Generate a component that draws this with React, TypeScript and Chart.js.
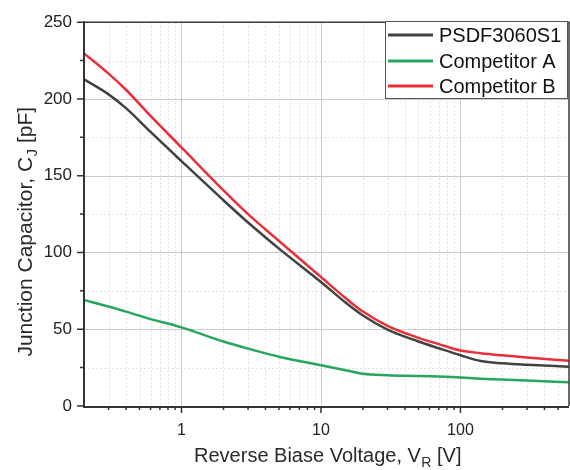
import { useEffect, useRef } from 'react';
import { Chart, registerables } from 'chart.js';

Chart.register(...registerables);

// ---- data ----
const voltages = [0.2, 0.3, 0.4, 0.6, 1, 2, 3, 5, 10, 15, 20, 30, 50, 70, 100, 140, 200, 300, 600];
const psdf3060 = [212.8, 203, 194, 178.5, 159.5, 134, 119.5, 102.5, 80.8, 67.4, 58.9, 49.7, 42, 37.6, 33.1, 29.3, 27.8, 26.8, 25.6];
const competitorA = [69, 64.8, 61.5, 56.6, 51.2, 42, 37.4, 32.1, 26.5, 23.3, 21, 20.1, 19.6, 19.2, 18.6, 17.7, 17.2, 16.6, 15.4];
const competitorB = [229.7, 216.5, 206, 189, 168.4, 140.5, 125, 107.5, 84, 70.3, 61.5, 52.2, 44.4, 40.3, 36.1, 34.4, 33, 31.6, 29.5];

const seriesNames = ['PSDF3060S1', 'Competitor A', 'Competitor B'];
const seriesColors = ['#424242', '#27a55e', '#e8303a'];

const xMajorTicks = [1, 10, 100];
const xMinorTicks = [0.3, 0.4, 0.5, 0.6, 0.7, 0.8, 0.9, 2, 3, 4, 5, 6, 7, 8, 9, 20, 30, 40, 50, 60, 70, 80, 90, 200, 300, 400, 500];
const yMajorTicks = [0, 50, 100, 150, 200, 250];
const yMinorTicks = [25, 75, 125, 175, 225];

const xTitle = ['Reverse Biase Voltage, V', 'R', ' [V]'];
const yTitle = ['Junction Capacitor, C', 'J', ' [pF]'];

const FONT = '"Liberation Sans", Arial, sans-serif';

function drawSubTitle(ctx: CanvasRenderingContext2D, parts: string[], cx: number, cy: number, rot: number, size: number) {
  const big = `${size}px ${FONT}`;
  const small = `${Math.round(size * 0.7)}px ${FONT}`;
  ctx.save();
  ctx.translate(cx, cy);
  ctx.rotate(rot);
  ctx.font = big;
  const w1 = ctx.measureText(parts[0]).width;
  const w3 = ctx.measureText(parts[2]).width;
  ctx.font = small;
  const w2 = ctx.measureText(parts[1]).width;
  let x = -(w1 + w2 + w3) / 2;
  ctx.fillStyle = '#2a2a2a';
  ctx.textBaseline = 'alphabetic';
  ctx.textAlign = 'left';
  ctx.font = big;
  ctx.fillText(parts[0], x, 7.5);
  x += w1 + 0.5;
  ctx.font = small;
  ctx.fillText(parts[1], x, 13);
  x += w2;
  ctx.font = big;
  ctx.fillText(parts[2], x, 7.5);
  ctx.restore();
}

const framePlugin = {
  id: 'framePlugin',
  beforeDatasetsDraw(chart: any) {
    const { ctx, chartArea: a, scales } = chart;
    const xs = scales.x;
    const ys = scales.y;
    ctx.save();
    // minor grid (dotted)
    ctx.lineWidth = 1;
    ctx.strokeStyle = '#e2e2e2';
    ctx.setLineDash([2, 2]);
    ctx.beginPath();
    xMinorTicks.forEach((v) => {
      const px = Math.round(xs.getPixelForValue(v)) + 0.5;
      ctx.moveTo(px, a.top);
      ctx.lineTo(px, a.bottom);
    });
    yMinorTicks.forEach((v) => {
      const py = Math.round(ys.getPixelForValue(v)) + 0.5;
      ctx.moveTo(a.left, py);
      ctx.lineTo(a.right, py);
    });
    ctx.stroke();
    // major grid (solid)
    ctx.setLineDash([]);
    ctx.strokeStyle = '#cbcbcb';
    ctx.beginPath();
    xMajorTicks.forEach((v) => {
      const px = Math.round(xs.getPixelForValue(v)) + 0.5;
      ctx.moveTo(px, a.top);
      ctx.lineTo(px, a.bottom);
    });
    yMajorTicks.forEach((v) => {
      if (v === 0 || v === 250) return;
      const py = Math.round(ys.getPixelForValue(v)) + 0.5;
      ctx.moveTo(a.left, py);
      ctx.lineTo(a.right, py);
    });
    ctx.stroke();
    ctx.restore();
  },
  afterDatasetsDraw(chart: any) {
    const { ctx, chartArea: a, scales } = chart;
    const xs = scales.x;
    const ys = scales.y;
    ctx.save();
    // top & right frame
    ctx.strokeStyle = '#3a3a3a';
    ctx.lineWidth = 1.5;
    ctx.beginPath();
    ctx.moveTo(a.left, a.top);
    ctx.lineTo(a.right, a.top);
    ctx.lineTo(a.right, a.bottom);
    ctx.stroke();
    // axis lines
    ctx.lineWidth = 2;
    ctx.strokeStyle = '#333';
    ctx.beginPath();
    ctx.moveTo(a.left, a.top - 1);
    ctx.lineTo(a.left, a.bottom + 1);
    ctx.lineTo(a.right, a.bottom + 1);
    ctx.stroke();
    // tick marks
    ctx.lineWidth = 1.5;
    ctx.beginPath();
    xMajorTicks.forEach((v) => {
      const px = xs.getPixelForValue(v);
      ctx.moveTo(px, a.bottom);
      ctx.lineTo(px, a.bottom + 7);
    });
    xMinorTicks.forEach((v) => {
      const px = xs.getPixelForValue(v);
      ctx.moveTo(px, a.bottom);
      ctx.lineTo(px, a.bottom + 4);
    });
    yMajorTicks.forEach((v) => {
      const py = ys.getPixelForValue(v);
      ctx.moveTo(a.left, py);
      ctx.lineTo(a.left - 7, py);
    });
    yMinorTicks.forEach((v) => {
      const py = ys.getPixelForValue(v);
      ctx.moveTo(a.left, py);
      ctx.lineTo(a.left - 4, py);
    });
    ctx.stroke();
    ctx.restore();
  },
  afterDraw(chart: any) {
    const { ctx, chartArea: a } = chart;
    // axis titles
    drawSubTitle(ctx, xTitle, (a.left + a.right) / 2 + 1, 454, 0, 20);
    drawSubTitle(ctx, yTitle, 24, 232, -Math.PI / 2, 21);
    // legend box
    ctx.save();
    const bx = 385.5, by = 21.5, bw = 182, bh = 77;
    ctx.fillStyle = '#ffffff';
    ctx.fillRect(bx, by, bw, bh);
    ctx.strokeStyle = '#555';
    ctx.lineWidth = 1;
    ctx.strokeRect(bx, by, bw, bh);
    ctx.font = `20px ${FONT}`;
    ctx.textBaseline = 'middle';
    ctx.textAlign = 'left';
    const rows = [35, 61, 86];
    seriesNames.forEach((name, i) => {
      ctx.strokeStyle = seriesColors[i];
      ctx.lineWidth = 3;
      ctx.beginPath();
      ctx.moveTo(388, rows[i]);
      ctx.lineTo(433, rows[i]);
      ctx.stroke();
      ctx.fillStyle = '#111';
      ctx.fillText(name, 439, rows[i] + 1);
    });
    ctx.restore();
  },
};

export default function App() {
  const ref = useRef<HTMLCanvasElement | null>(null);
  useEffect(() => {
    document.body.style.margin = '0';
    const canvas = ref.current;
    if (!canvas) return;
    const series = [psdf3060, competitorA, competitorB];
    const chart = new Chart(canvas, {
      type: 'line',
      data: {
        datasets: series.map((vals, i) => ({
          label: seriesNames[i],
          data: voltages.map((v, j) => ({ x: v, y: vals[j] })),
          borderColor: seriesColors[i],
          backgroundColor: seriesColors[i],
          borderWidth: 2.5,
          pointRadius: 0,
          cubicInterpolationMode: 'monotone' as const,
          fill: false,
        })),
      },
      options: {
        animation: false,
        responsive: false,
        maintainAspectRatio: false,
        layout: { padding: { left: 0, top: 16, right: 1, bottom: 0 } },
        plugins: { legend: { display: false }, tooltip: { enabled: false } },
        scales: {
          x: {
            type: 'logarithmic',
            min: 0.2,
            max: 600,
            grid: { display: false, drawTicks: false },
            border: { display: false },
            afterBuildTicks: (scale: any) => {
              scale.ticks = xMajorTicks.map((v) => ({ value: v }));
            },
            afterFit: (scale: any) => {
              scale.height = 64;
            },
            ticks: {
              autoSkip: false,
              maxRotation: 0,
              padding: 15,
              color: '#222',
              font: { family: FONT, size: 16 },
              callback: (v: any) => String(v),
            },
          },
          y: {
            type: 'linear',
            min: 0,
            max: 250,
            grid: { display: false, drawTicks: false },
            border: { display: false },
            afterBuildTicks: (scale: any) => {
              scale.ticks = yMajorTicks.map((v) => ({ value: v }));
            },
            afterFit: (scale: any) => {
              scale.width = 84;
            },
            ticks: {
              padding: 12,
              color: '#222',
              font: { family: FONT, size: 17 },
              callback: (v: any) => String(v),
            },
          },
        },
      },
      plugins: [framePlugin],
    });
    return () => chart.destroy();
  }, []);
  return <canvas ref={ref} width={570} height={470} style={{ display: 'block' }} />;
}
